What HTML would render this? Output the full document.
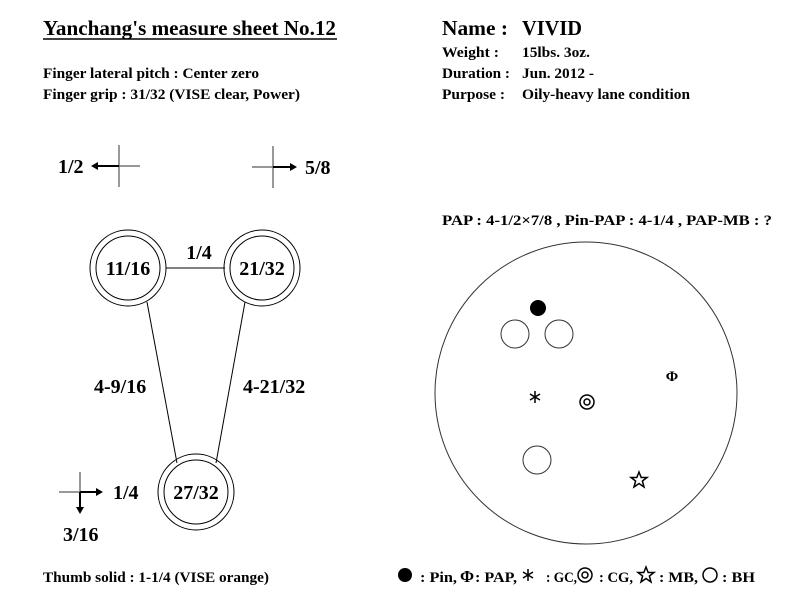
<!DOCTYPE html>
<html><head><style>
body{margin:0;background:#fff;}
svg text{font-family:"Liberation Serif",serif;font-weight:bold;fill:#000;}
</style></head><body>
<svg width="800" height="600" viewBox="0 0 800 600" xmlns="http://www.w3.org/2000/svg">
<text x="43" y="35" font-size="21" textLength="293" lengthAdjust="spacingAndGlyphs">Yanchang's measure sheet No.12</text>
<line x1="43" y1="39" x2="337" y2="39" stroke="#000" stroke-width="1.5"/>
<text x="43" y="78" font-size="15" textLength="216" lengthAdjust="spacingAndGlyphs">Finger lateral pitch : Center zero</text>
<text x="43" y="99" font-size="15" textLength="257" lengthAdjust="spacingAndGlyphs">Finger grip : 31/32 (VISE clear, Power)</text>
<text x="442" y="35" font-size="21" textLength="66" lengthAdjust="spacingAndGlyphs">Name :</text>
<text x="522" y="35" font-size="21" textLength="60" lengthAdjust="spacingAndGlyphs">VIVID</text>
<text x="442" y="57" font-size="15" textLength="57" lengthAdjust="spacingAndGlyphs">Weight :</text><text x="522" y="57" font-size="15" textLength="68" lengthAdjust="spacingAndGlyphs">15lbs. 3oz.</text>
<text x="442" y="78" font-size="15" textLength="68" lengthAdjust="spacingAndGlyphs">Duration :</text><text x="522" y="78" font-size="15" textLength="72" lengthAdjust="spacingAndGlyphs">Jun. 2012 -</text>
<text x="442" y="99" font-size="15" textLength="63" lengthAdjust="spacingAndGlyphs">Purpose :</text><text x="522" y="99" font-size="15" textLength="168" lengthAdjust="spacingAndGlyphs">Oily-heavy lane condition</text>

<!-- crosses -->
<g stroke="#777" stroke-width="1.5">
<line x1="119" y1="145" x2="119" y2="187"/><line x1="119" y1="166" x2="140" y2="166"/>
<line x1="273" y1="146" x2="273" y2="188"/><line x1="252" y1="167" x2="273" y2="167"/>
<line x1="80" y1="472" x2="80" y2="492"/><line x1="59" y1="492" x2="80" y2="492"/>
</g>
<g stroke="#000" stroke-width="2">
<line x1="96" y1="166" x2="119" y2="166"/><line x1="273" y1="167" x2="292" y2="167"/>
<line x1="80" y1="492" x2="97" y2="492"/><line x1="80" y1="492" x2="80" y2="508"/>
</g>
<g fill="#000">
<polygon points="91,166 98,162 98,170"/><polygon points="297,167 290,163 290,171"/>
<polygon points="103,492 96,488 96,496"/><polygon points="80,514 76,507 84,507"/>
</g>
<text x="58" y="173" font-size="20">1/2</text>
<text x="305" y="174" font-size="20">5/8</text>
<text x="113" y="499" font-size="20">1/4</text>
<text x="63" y="541" font-size="20">3/16</text>

<!-- finger/thumb holes -->
<g fill="none" stroke="#000" stroke-width="1">
<line x1="166" y1="268" x2="225" y2="268"/>
<line x1="147" y1="302" x2="177" y2="463"/>
<line x1="245" y1="302" x2="216" y2="463"/>
<circle cx="128" cy="268" r="38"/><circle cx="128" cy="268" r="32"/>
<circle cx="262" cy="268" r="38"/><circle cx="262" cy="268" r="32"/>
<circle cx="196" cy="492" r="38"/><circle cx="196" cy="492" r="32"/>
</g>
<text x="128" y="275" font-size="20" text-anchor="middle">11/16</text>
<text x="262" y="275" font-size="20" text-anchor="middle">21/32</text>
<text x="196" y="499" font-size="20" text-anchor="middle">27/32</text>
<text x="199" y="259" font-size="20" text-anchor="middle">1/4</text>
<text x="94" y="393" font-size="20">4-9/16</text>
<text x="243" y="393" font-size="20">4-21/32</text>

<!-- ball -->
<text x="442" y="225" font-size="15" textLength="330" lengthAdjust="spacingAndGlyphs">PAP : 4-1/2×7/8 ,   Pin-PAP : 4-1/4 ,   PAP-MB : ?</text>
<g fill="none" stroke="#333" stroke-width="1">
<circle cx="586" cy="393" r="151"/>
<circle cx="515" cy="334" r="14"/><circle cx="559" cy="334" r="14"/>
<circle cx="537" cy="460" r="14"/>
</g>
<g fill="none" stroke="#000" stroke-width="1.5">
<circle cx="587" cy="402" r="7"/><circle cx="587" cy="402" r="3"/>
<path d="M535,391V403M530,394L540,400M530,400L540,394"/>
<polygon points="639,472 641.2,477.5 647,477.5 642.4,481 644,487 639,483.5 634,487 635.6,481 631,477.5 636.8,477.5"/>
</g>
<circle cx="538" cy="308" r="8" fill="#000"/>
<text x="672" y="381" font-size="15" text-anchor="middle">Φ</text>

<text x="43" y="582" font-size="15" textLength="226" lengthAdjust="spacingAndGlyphs">Thumb solid : 1-1/4 (VISE orange)</text>
<circle cx="405" cy="575" r="7" fill="#000"/>
<g font-size="15">
<text x="420" y="582" textLength="37" lengthAdjust="spacingAndGlyphs">: Pin,</text>
<text x="467" y="582" text-anchor="middle" font-weight="normal" font-size="17">Φ</text>
<text x="475" y="582" textLength="42" lengthAdjust="spacingAndGlyphs">: PAP,</text>
<text x="546" y="582" textLength="31" lengthAdjust="spacingAndGlyphs">: GC,</text>
<text x="599" y="582" textLength="34" lengthAdjust="spacingAndGlyphs">: CG,</text>
<text x="659" y="582" textLength="39" lengthAdjust="spacingAndGlyphs">: MB,</text>
<text x="722" y="582" textLength="33" lengthAdjust="spacingAndGlyphs">: BH</text>
</g>
<g fill="none" stroke="#000" stroke-width="1.5">
<path d="M528,569V581M523,572L533,578M523,578L533,572"/>
<circle cx="585" cy="575" r="7"/><circle cx="585" cy="575" r="3"/>
<polygon points="646,567 648.2,572.5 654,572.5 649.4,576 651,582 646,578.5 641,582 642.6,576 638,572.5 643.8,572.5"/>
<circle cx="710" cy="575" r="7"/>
</g>
</svg>
</body></html>
